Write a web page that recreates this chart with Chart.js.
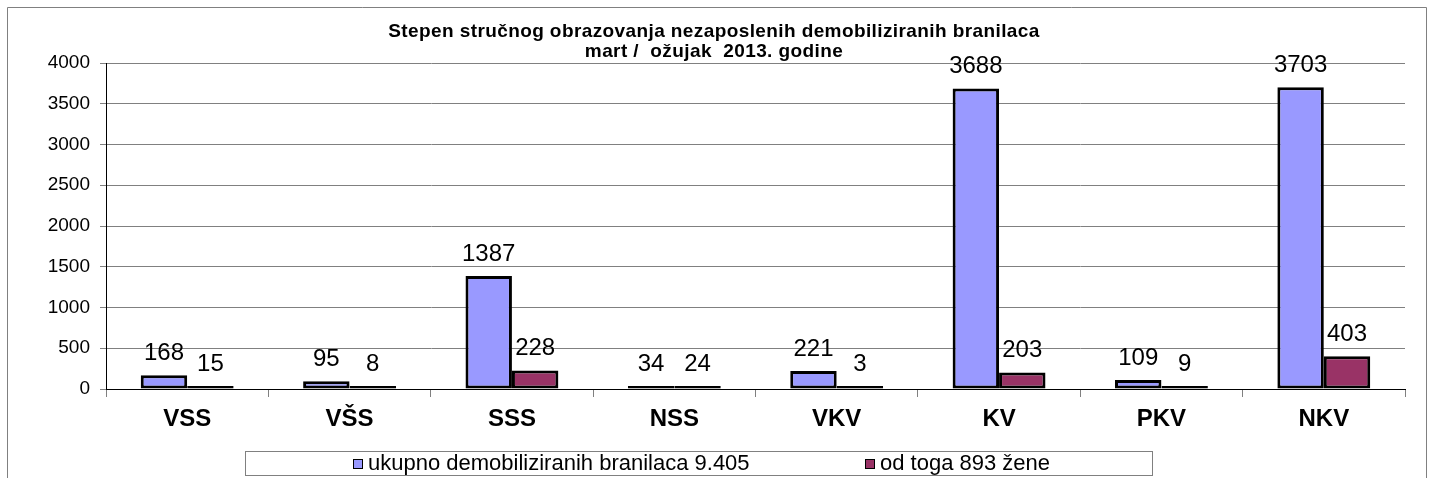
<!DOCTYPE html>
<html>
<head>
<meta charset="utf-8">
<script src="https://cdn.jsdelivr.net/npm/chart.js@4"></script>
<style>
  html, body { margin: 0; padding: 0; background: #fff; }
  #wrap { position: relative; width: 1433px; height: 478px; }
</style>
</head>
<body>
<div id="wrap"><canvas id="chart" width="1433" height="478"></canvas></div>
<script>
const categories = ['VSS', 'VŠS', 'SSS', 'NSS', 'VKV', 'KV', 'PKV', 'NKV']
const ukupno = [168, 95, 1387, 34, 221, 3688, 109, 3703]
const zene = [15, 8, 228, 24, 3, 203, 9, 403]
const seriesLabels = ['ukupno demobiliziranih branilaca 9.405', 'od toga 893 žene']
const titleLines = [
  'Stepen stručnog obrazovanja nezaposlenih demobiliziranih branilaca',
  'mart /  ožujak  2013. godine',
]

const FONT = '"Liberation Sans", Arial, sans-serif'

// outer frame of the chart object
const frame = {
  id: 'frame',
  beforeDraw(chart) {
    const c = chart.ctx
    c.save()
    c.fillStyle = '#fff'
    c.fillRect(0, 0, chart.width, chart.height)
    c.strokeStyle = '#808080'
    c.lineWidth = 1
    c.beginPath()
    c.moveTo(7.5, chart.height + 2)
    c.lineTo(7.5, 7.5)
    c.lineTo(1426.5, 7.5)
    c.lineTo(1426.5, chart.height + 2)
    c.stroke()
    c.restore()
  },
}

// numbers above each bar
const valueLabels = {
  id: 'valueLabels',
  afterDatasetsDraw(chart) {
    const c = chart.ctx
    c.save()
    c.font = '24px ' + FONT
    c.fillStyle = '#000'
    c.textAlign = 'center'
    c.textBaseline = 'alphabetic'
    chart.data.datasets.forEach((ds, i) => {
      chart.getDatasetMeta(i).data.forEach((bar, j) => {
        c.fillText(String(ds.data[j]), bar.x, bar.y - 15)
      })
    })
    c.restore()
  },
}

// two-line title placed over the top of the plot
const titleBlock = {
  id: 'titleBlock',
  afterDraw(chart) {
    const c = chart.ctx
    c.save()
    c.font = 'bold 19px ' + FONT
    c.letterSpacing = '0.4px'
    c.fillStyle = '#000'
    c.textAlign = 'center'
    c.textBaseline = 'middle'
    titleLines.forEach((t, i) => c.fillText(t, 714, 32 + i * 20))
    c.restore()
  },
}

// boxed legend under the axis
const boxLegend = {
  id: 'boxLegend',
  afterDraw(chart) {
    const c = chart.ctx
    c.save()
    c.strokeStyle = '#808080'
    c.lineWidth = 1
    c.strokeRect(245.5, 451.5, 907, 24)
    c.font = '22px ' + FONT
    c.textBaseline = 'middle'
    c.textAlign = 'left'
    const xs = [353, 865]
    chart.data.datasets.forEach((ds, i) => {
      c.fillStyle = ds.backgroundColor
      c.fillRect(xs[i], 459, 9, 9)
      c.strokeStyle = '#000'
      c.strokeRect(xs[i] + 0.5, 459.5, 9, 9)
      c.fillStyle = '#000'
      c.fillText(ds.label, xs[i] + 15, 464)
    })
    c.restore()
  },
}

new Chart(document.getElementById('chart'), {
  type: 'bar',
  data: {
    labels: categories,
    datasets: [
      {
        label: seriesLabels[0],
        data: ukupno,
        backgroundColor: '#9999FF',
        borderColor: '#000',
        borderWidth: 3,
        borderSkipped: false,
        minBarLength: 3,
        categoryPercentage: 0.572,
        barPercentage: 1,
      },
      {
        label: seriesLabels[1],
        data: zene,
        backgroundColor: '#993366',
        borderColor: '#000',
        borderWidth: 3,
        borderSkipped: false,
        minBarLength: 3,
        categoryPercentage: 0.572,
        barPercentage: 1,
      },
    ],
  },
  options: {
    responsive: false,
    animation: false,
    layout: { padding: { left: 0, top: 63, right: 28, bottom: 0 } },
    plugins: {
      legend: { display: false },
      title: { display: false },
      tooltip: { enabled: false },
    },
    scales: {
      x: {
        grid: {
          drawOnChartArea: false,
          drawTicks: true,
          tickLength: 8,
          color: '#808080',
          offset: true,
        },
        border: { color: '#000', width: 1 },
        ticks: {
          color: '#000',
          font: { family: FONT, size: 24, weight: 'bold' },
          padding: 8,
          maxRotation: 0,
        },
        afterFit: scale => { scale.height = 89 },
      },
      y: {
        min: 0,
        max: 4000,
        grid: { color: '#808080', tickLength: 6, tickColor: '#808080' },
        border: { color: '#000', width: 1 },
        ticks: {
          stepSize: 500,
          color: '#000',
          font: { family: FONT, size: 19 },
          padding: 10,
          callback: v => String(v),
        },
        afterFit: scale => { scale.width = 106 },
      },
    },
  },
  plugins: [frame, valueLabels, titleBlock, boxLegend],
})
</script>
</body>
</html>
